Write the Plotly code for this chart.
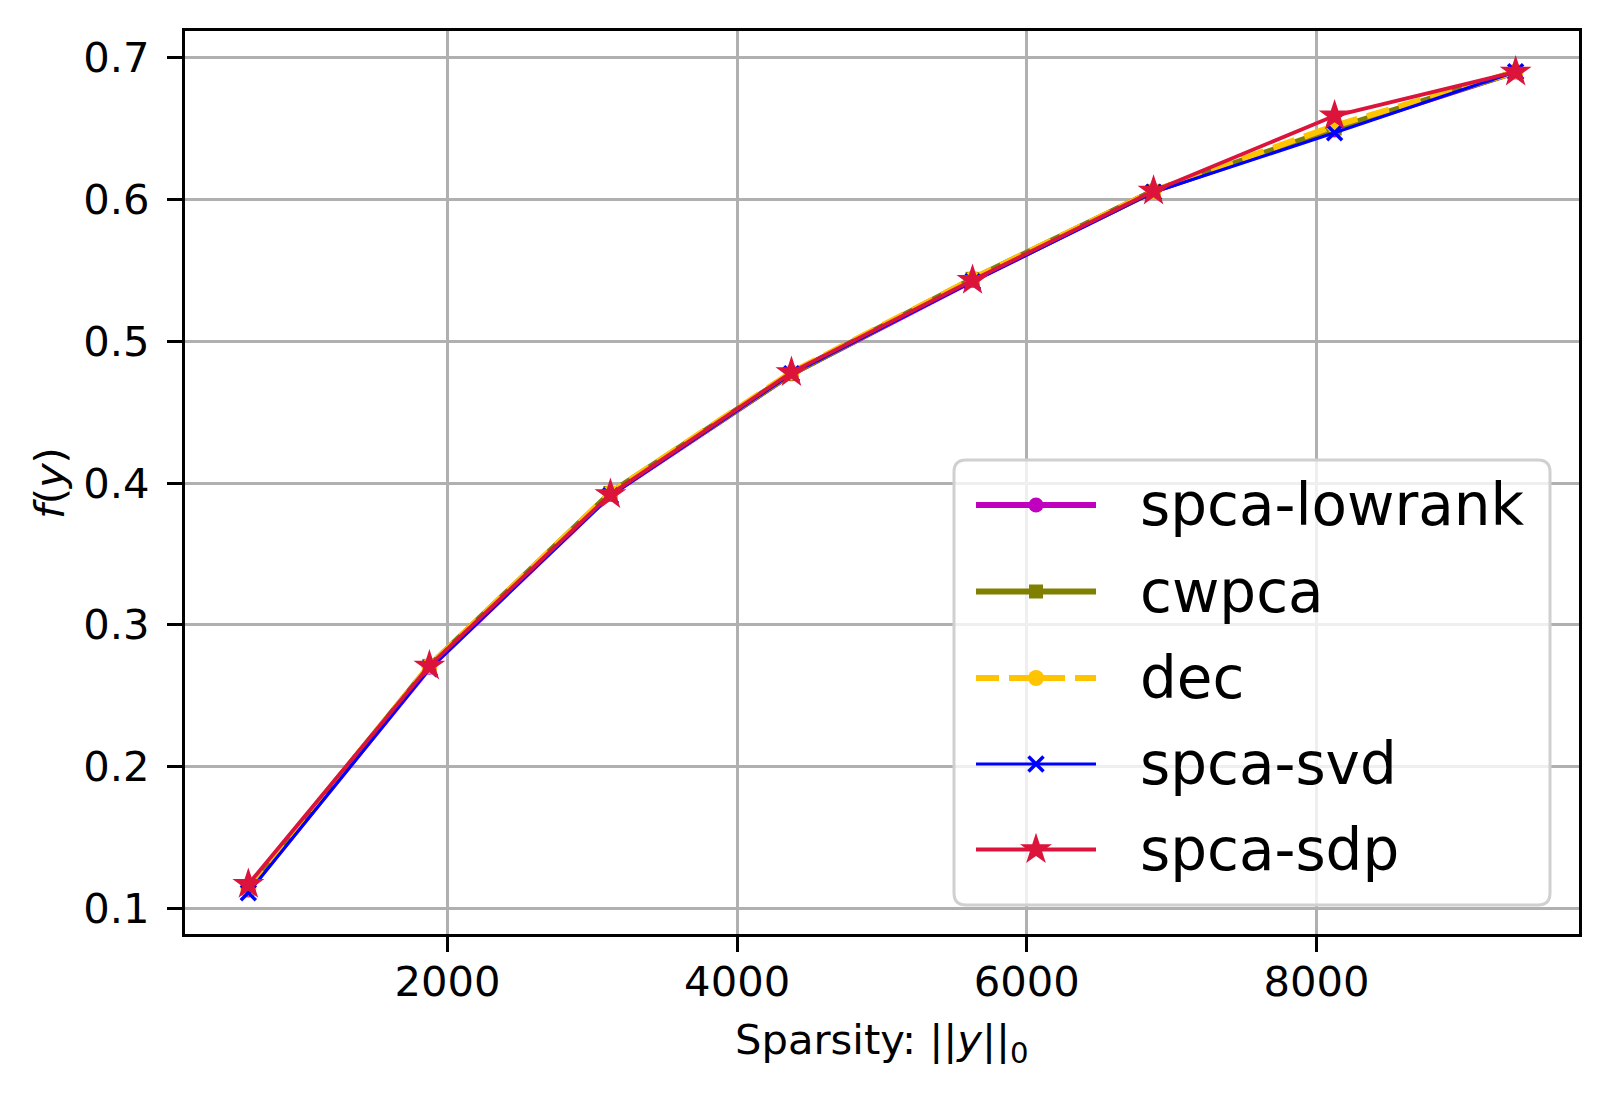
import plotly.graph_objects as go

# ---------------- data ----------------
sparsity = [625, 1875, 3125, 4375, 5625, 6875, 8125, 9375]
names = ["spca-lowrank", "cwpca", "dec", "spca-svd", "spca-sdp"]
f_lowrank = [0.113, 0.270, 0.392, 0.477, 0.543, 0.606, 0.649, 0.690]
f_cwpca = [0.114, 0.271, 0.393, 0.477, 0.544, 0.606, 0.650, 0.690]
f_dec = [0.114, 0.271, 0.393, 0.478, 0.544, 0.606, 0.652, 0.690]
f_svd = [0.111, 0.269, 0.391, 0.477, 0.542, 0.605, 0.647, 0.690]
f_sdp = [0.117, 0.271, 0.392, 0.478, 0.543, 0.606, 0.659, 0.690]
y_ticks = [0.1, 0.2, 0.3, 0.4, 0.5, 0.6, 0.7]
x_ticks = [2000, 4000, 6000, 8000]
x_title = "Sparsity: ||<i>y</i>||<sub>0</sub>"
y_title = "<i>f</i>(<i>y</i>)"

series = [f_lowrank, f_cwpca, f_dec, f_svd, f_sdp]

# ---------------- styles ----------------
FONT = "DejaVu Sans"
styles = [
    dict(color="#bf00bf", width=6, dash="solid", symbol="circle", msize=15, mline=0),
    dict(color="#808000", width=6, dash="solid", symbol="square", msize=14, mline=0),
    dict(color="#ffc400", width=6, dash="23px,10px", symbol="circle", msize=16, mline=0),
    dict(color="#0000ff", width=3.2, dash="solid", symbol="x-thin", msize=15, mline=3.5),
    dict(color="#dc143c", width=3.8, dash="solid", symbol="star", msize=24, mline=0),
]

XR = [187.5, 9812.5]
YR = [0.0819, 0.7188]
# page-pixel position of the plot area (page body has an 8px margin)
OFF = 8
L, R, T, B = 185, 1579, 31, 934
W, H = 1610, 1096


def pxp(px):
    return (px - L) / (R - L)


def pyp(py):
    return (B - py) / (B - T)


fig = go.Figure()
for name, vals, st in zip(names, series, styles):
    marker = dict(symbol=st["symbol"], size=st["msize"], color=st["color"])
    marker["line"] = dict(color=st["color"], width=st["mline"]) if st["mline"] else dict(width=0)
    fig.add_trace(go.Scatter(
        x=sparsity, y=vals, name=name, mode="lines+markers",
        line=dict(color=st["color"], width=st["width"], dash=st["dash"]),
        marker=marker, showlegend=False, cliponaxis=False,
    ))

# ---------------- manual legend on a pixel overlay axis ----------------
row_y = [505, 591.5, 678, 764, 849.5]
line_x0, line_xm, line_x1 = 976, 1036, 1096
text_x = 1138
for name, st, ry in zip(names, styles, row_y):
    fig.add_trace(go.Scatter(
        x=[line_x0, line_x1], y=[ry, ry], xaxis="x2", yaxis="y2", mode="lines",
        line=dict(color=st["color"], width=st["width"], dash=st["dash"]),
        showlegend=False, hoverinfo="skip",
    ))
    marker = dict(symbol=st["symbol"], size=st["msize"], color=st["color"])
    marker["line"] = dict(color=st["color"], width=st["mline"]) if st["mline"] else dict(width=0)
    fig.add_trace(go.Scatter(
        x=[line_xm], y=[ry], xaxis="x2", yaxis="y2", mode="markers",
        marker=marker, showlegend=False, hoverinfo="skip",
    ))
    fig.add_annotation(
        x=text_x, y=ry, xref="x2", yref="y2", text=name, showarrow=False,
        xanchor="left", yanchor="middle", font=dict(family=FONT, size=58, color="black"),
    )

# axis titles placed as paper annotations
fig.add_annotation(x=pxp((L + R) / 2), y=pyp(1042), xref="paper", yref="paper", text=x_title,
                   showarrow=False, xanchor="center", yanchor="middle",
                   font=dict(family=FONT, size=41.7, color="black"))
fig.add_annotation(x=pxp(49), y=pyp(483), xref="paper", yref="paper", text=y_title,
                   showarrow=False, textangle=-90, xanchor="center", yanchor="middle",
                   font=dict(family=FONT, size=41.7, color="black"))


def px2x(px):
    return XR[0] + (px - L) / (R - L) * (XR[1] - XR[0])


def py2y(py):
    return YR[1] - (py - T) / (B - T) * (YR[1] - YR[0])


bx0, bx1, by0, by1, r = 954, 1550, 460, 905, 12
pts = dict(
    a=(px2x(bx0 + r), py2y(by0)), b=(px2x(bx1 - r), py2y(by0)), c=(px2x(bx1), py2y(by0)),
    d=(px2x(bx1), py2y(by0 + r)), e=(px2x(bx1), py2y(by1 - r)), f=(px2x(bx1), py2y(by1)),
    g=(px2x(bx1 - r), py2y(by1)), h=(px2x(bx0 + r), py2y(by1)), i=(px2x(bx0), py2y(by1)),
    j=(px2x(bx0), py2y(by1 - r)), k=(px2x(bx0), py2y(by0 + r)), m=(px2x(bx0), py2y(by0)),
)
P = {k: f"{v[0]:.3f},{v[1]:.6f}" for k, v in pts.items()}
box_path = (f"M{P['a']} L{P['b']} Q{P['c']} {P['d']} L{P['e']} Q{P['f']} {P['g']} "
            f"L{P['h']} Q{P['i']} {P['j']} L{P['k']} Q{P['m']} {P['a']} Z")
fig.add_shape(type="path", path=box_path, xref="x", yref="y",
              fillcolor="rgba(255,255,255,0.8)", line=dict(color="#d0d0d0", width=3),
              layer="between")

axis_common = dict(
    showline=True, linecolor="black", linewidth=3.3, mirror=True,
    ticks="outside", ticklen=15, tickwidth=3.3, tickcolor="black",
    showgrid=True, gridcolor="#b0b0b0", gridwidth=3.2, zeroline=False,
    tickfont=dict(family=FONT, size=41.7, color="black"), automargin=False,
)

fig.update_layout(
    width=W, height=H,
    margin=dict(l=L - OFF, r=W - R + OFF, t=T - OFF, b=H - B + OFF, autoexpand=False),
    paper_bgcolor="white", plot_bgcolor="white",
    font=dict(family=FONT, color="black"),
    xaxis=dict(range=XR, tickvals=x_ticks, ticktext=[str(v) for v in x_ticks],
               ticklabelstandoff=-6, **axis_common),
    yaxis=dict(range=YR, tickvals=y_ticks, ticktext=[f"{v:.1f}" for v in y_ticks],
               ticklabelstandoff=9, **axis_common),
    xaxis2=dict(overlaying="x", range=[L, R], visible=False, fixedrange=True),
    yaxis2=dict(overlaying="y", range=[B, T], visible=False, fixedrange=True),
    showlegend=False,
)

fig.write_html("out.html")
